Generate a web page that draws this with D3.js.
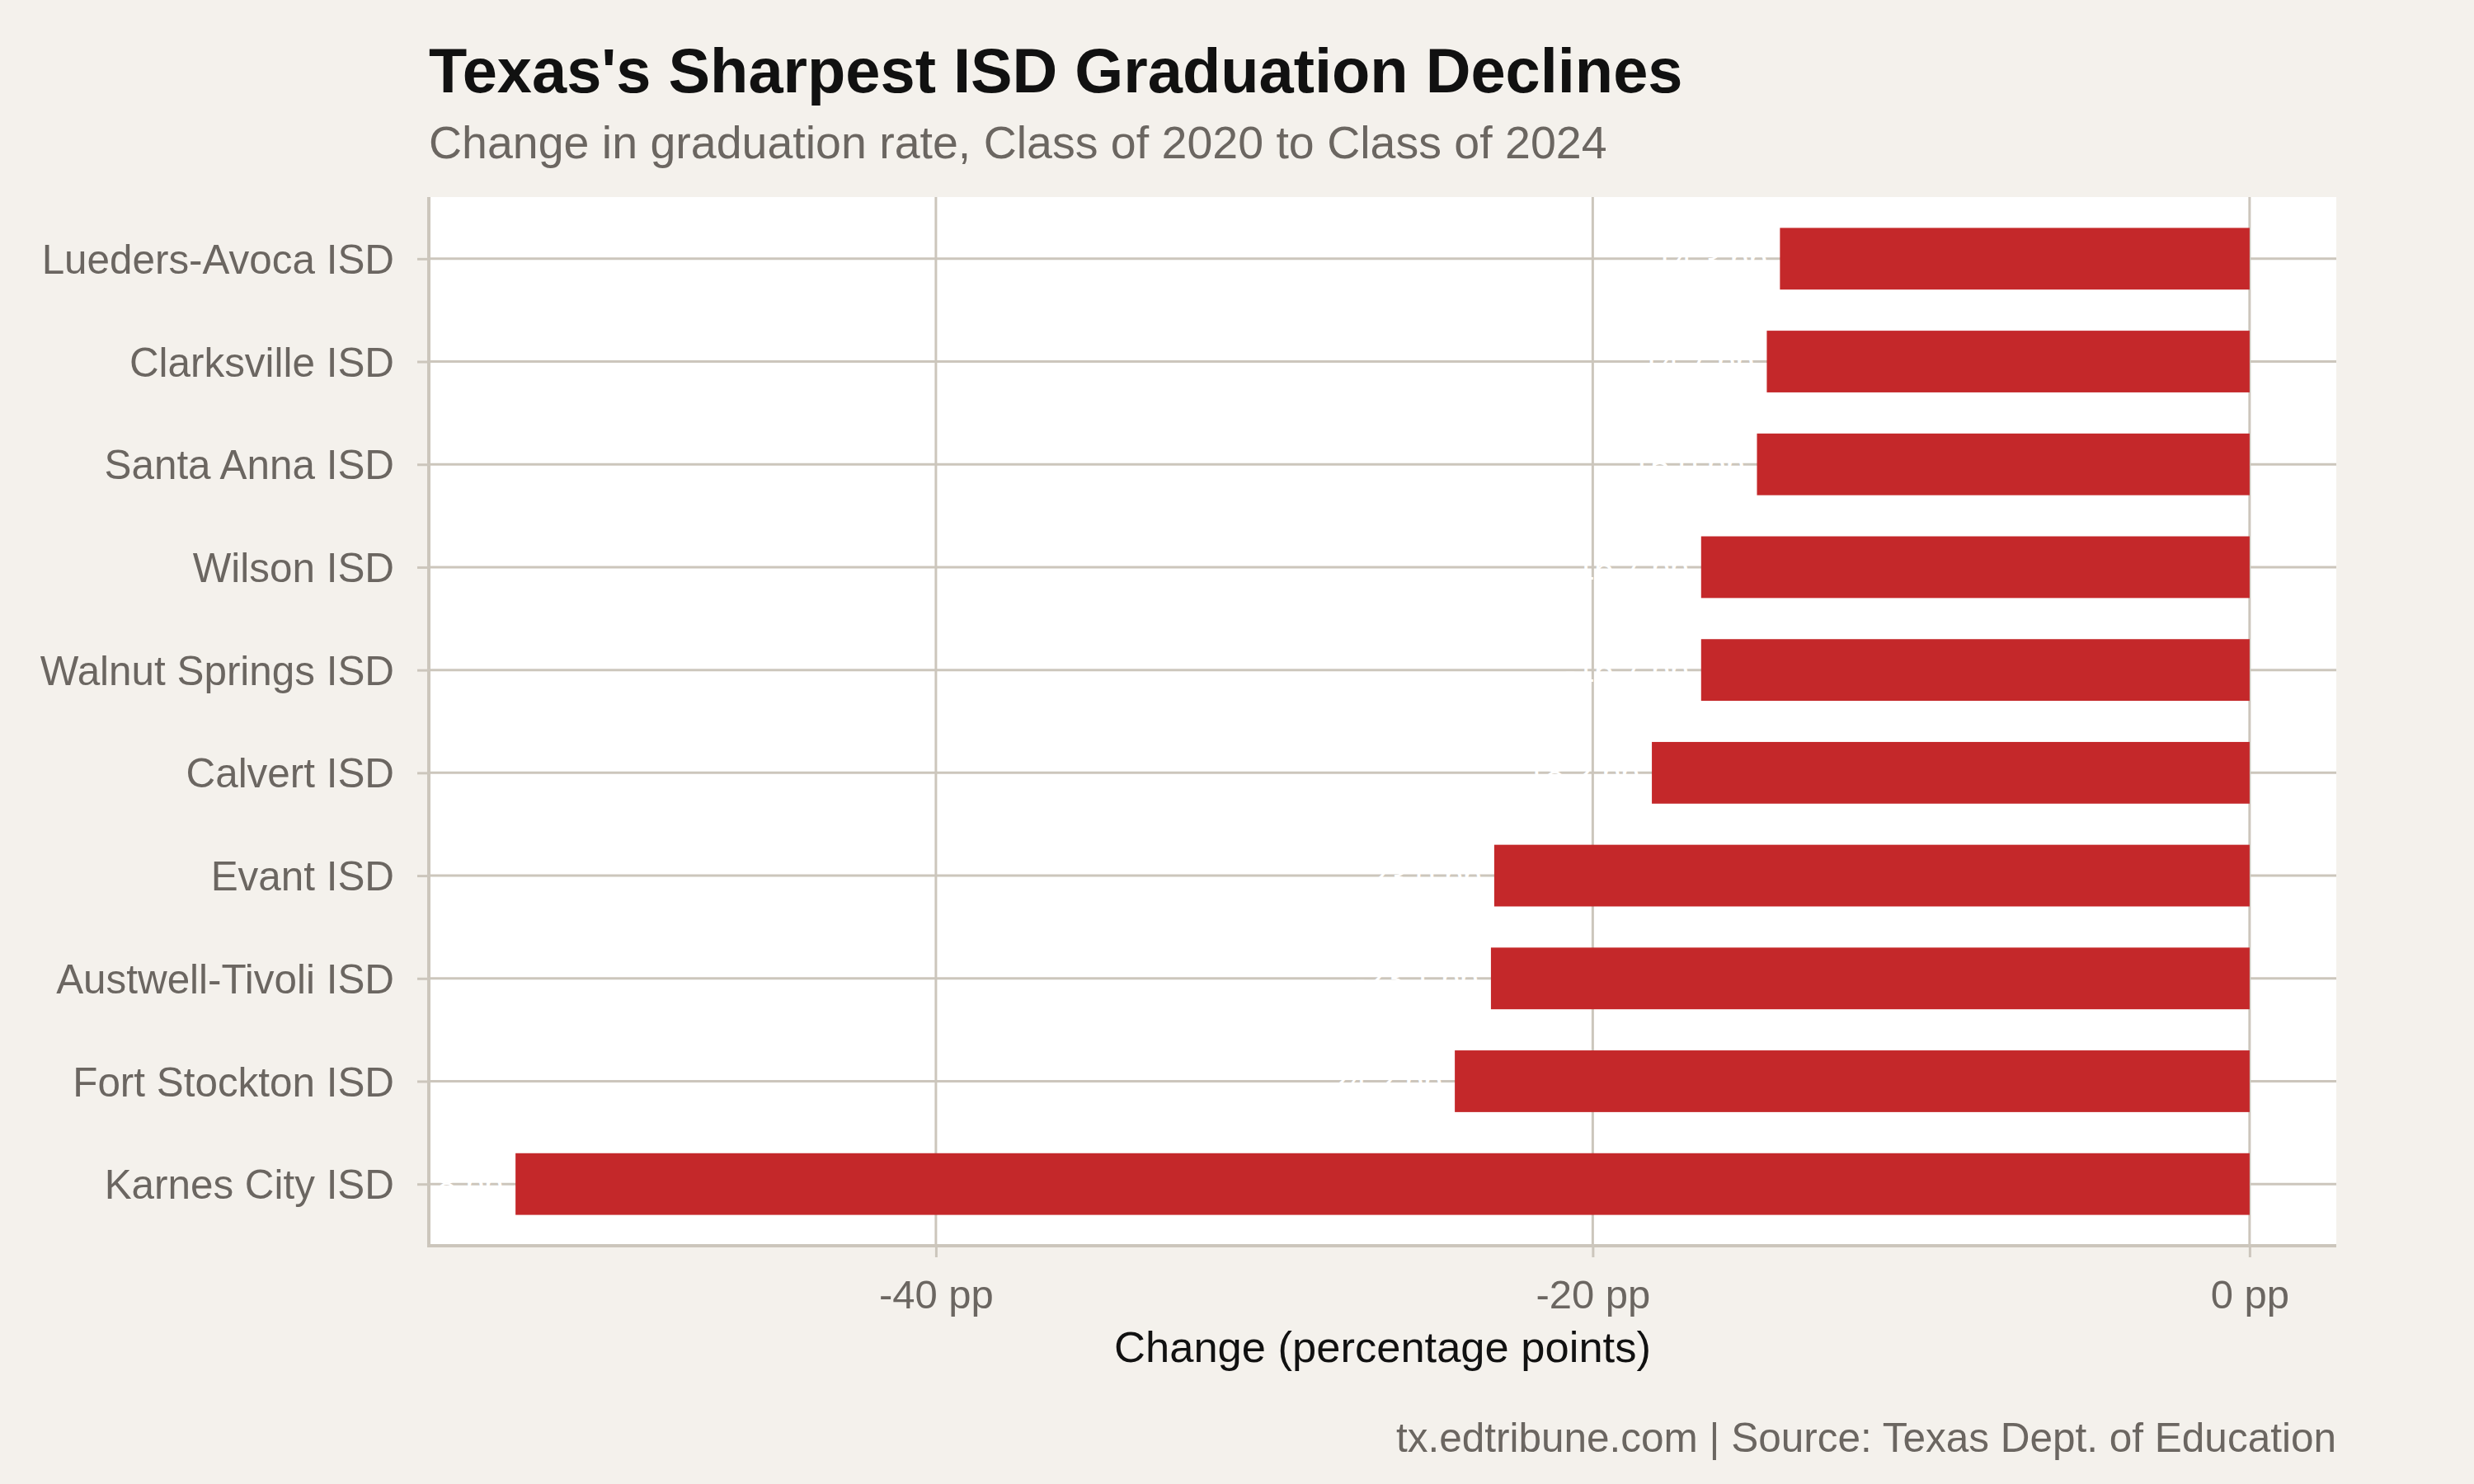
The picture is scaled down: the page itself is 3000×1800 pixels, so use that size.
<!DOCTYPE html>
<html>
<head>
<meta charset="utf-8">
<script src="https://cdn.jsdelivr.net/npm/d3@7"></script>
<style>
  html, body { margin: 0; padding: 0; background: #f4f1ec; }
  svg { display: block; }
  text { font-family: "Liberation Sans", Arial, Helvetica, sans-serif; }
</style>
</head>
<body>
<svg id="chart" width="3000" height="1800"></svg>
<script>
// ---- data ----
const districts = [
  "Lueders-Avoca ISD", "Clarksville ISD", "Santa Anna ISD", "Wilson ISD",
  "Walnut Springs ISD", "Calvert ISD", "Evant ISD", "Austwell-Tivoli ISD",
  "Fort Stockton ISD", "Karnes City ISD"
];
const changes = [-14.3, -14.7, -15.0, -16.7, -16.7, -18.2, -23.0, -23.1, -24.2, -52.8];
const xTicks = [-40, -20, 0];
const tickSuffix = " pp";
const titleText = "Texas's Sharpest ISD Graduation Declines";
const subtitleText = "Change in graduation rate, Class of 2020 to Class of 2024";
const xAxisTitle = "Change (percentage points)";
const captionText = "tx.edtribune.com | Source: Texas Dept. of Education";

// ---- layout ----
const W = 3000, H = 1800;
const P = { left: 520, right: 2833, top: 239, bottom: 1511 };
const BG = "#f4f1ec", GRID = "#ccc6bc", BAR = "#c4282a", GRAYTXT = "#6b6661";

const svg = d3.select("#chart");
svg.append("rect").attr("width", W).attr("height", H).attr("fill", BG);

const minV = d3.min(changes), maxV = Math.max(0, d3.max(changes));
const pad = (maxV - minV) * 0.05;
const x = d3.scaleLinear().domain([minV - pad, maxV + pad]).range([P.left, P.right]);
const y = d3.scalePoint().domain(districts).range([P.top, P.bottom]).padding(0.6);
const barH = y.step() * 0.6;

// panel
svg.append("rect").attr("x", P.left).attr("y", P.top)
  .attr("width", P.right - P.left).attr("height", P.bottom - P.top).attr("fill", "#ffffff");

// gridlines
const grid = svg.append("g");
grid.selectAll("line.v").data(xTicks).join("line")
  .attr("x1", d => x(d)).attr("x2", d => x(d))
  .attr("y1", P.top).attr("y2", P.bottom)
  .attr("stroke", GRID).attr("stroke-width", 3);
grid.selectAll("line.h").data(districts).join("line")
  .attr("x1", P.left).attr("x2", P.right)
  .attr("y1", d => y(d)).attr("y2", d => y(d))
  .attr("stroke", GRID).attr("stroke-width", 3);

// bars
const rows = districts.map((d, i) => ({ name: d, v: changes[i] }));
const plot = svg.append("svg")
  .attr("x", P.left).attr("y", P.top)
  .attr("width", P.right - P.left).attr("height", P.bottom - P.top)
  .attr("viewBox", `${P.left} ${P.top} ${P.right - P.left} ${P.bottom - P.top}`)
  .attr("overflow", "hidden");
plot.selectAll("rect.bar").data(rows).join("rect")
  .attr("class", "bar")
  .attr("x", d => x(Math.min(0, d.v)))
  .attr("width", d => Math.abs(x(d.v) - x(0)))
  .attr("y", d => y(d.name) - barH / 2)
  .attr("height", barH)
  .attr("fill", BAR);

// value labels (white, hjust 1.1 from bar end), clipped to the panel
const LBL = 41;
plot.selectAll("text.val").data(rows).join("text")
  .attr("class", "val")
  .attr("x", d => x(d.v))
  .attr("y", d => y(d.name) + 0.358 * LBL)
  .attr("font-size", LBL)
  .attr("fill", "#ffffff")
  .text(d => d.v.toFixed(1) + tickSuffix)
  .each(function () {
    const w = this.getComputedTextLength();
    d3.select(this).attr("x", +d3.select(this).attr("x") - 1.1 * w);
  });

// axes
const xAxis = d3.axisBottom(x).tickValues(xTicks)
  .tickFormat(d => d + tickSuffix).tickSize(14).tickPadding(27);
const gx = svg.append("g").attr("transform", `translate(0,${P.bottom})`).call(xAxis);
gx.select(".domain").remove();
gx.selectAll(".tick line").attr("stroke", GRID).attr("stroke-width", 3);
gx.selectAll(".tick text").attr("fill", GRAYTXT).attr("font-size", 49)
  .attr("font-family", "Liberation Sans, Arial, sans-serif");

const yAxis = d3.axisLeft(y).tickSize(14).tickPadding(28);
const gy = svg.append("g").attr("transform", `translate(${P.left},0)`).call(yAxis);
gy.select(".domain").remove();
gy.selectAll(".tick line").attr("stroke", GRID).attr("stroke-width", 3);
gy.selectAll(".tick text").attr("fill", GRAYTXT).attr("font-size", 49.4).attr("dy", "0.357em")
  .attr("font-family", "Liberation Sans, Arial, sans-serif");

// axis lines
svg.append("line").attr("x1", P.left).attr("x2", P.left).attr("y1", P.top).attr("y2", P.bottom + 2)
  .attr("stroke", GRID).attr("stroke-width", 4);
svg.append("line").attr("x1", P.left - 2).attr("x2", P.right).attr("y1", P.bottom).attr("y2", P.bottom)
  .attr("stroke", GRID).attr("stroke-width", 4);

// titles
svg.append("text").attr("x", 520).attr("y", 112).attr("font-size", 75.8).attr("font-weight", "bold")
  .attr("fill", "#111111").text(titleText);
svg.append("text").attr("x", 520).attr("y", 192).attr("font-size", 55.5)
  .attr("fill", GRAYTXT).text(subtitleText);
svg.append("text").attr("x", (P.left + P.right) / 2).attr("y", 1652).attr("font-size", 52.5)
  .attr("text-anchor", "middle").attr("fill", "#111111").text(xAxisTitle);
svg.append("text").attr("x", P.right).attr("y", 1761).attr("font-size", 49.5)
  .attr("text-anchor", "end").attr("fill", GRAYTXT).text(captionText);
</script>
</body>
</html>
